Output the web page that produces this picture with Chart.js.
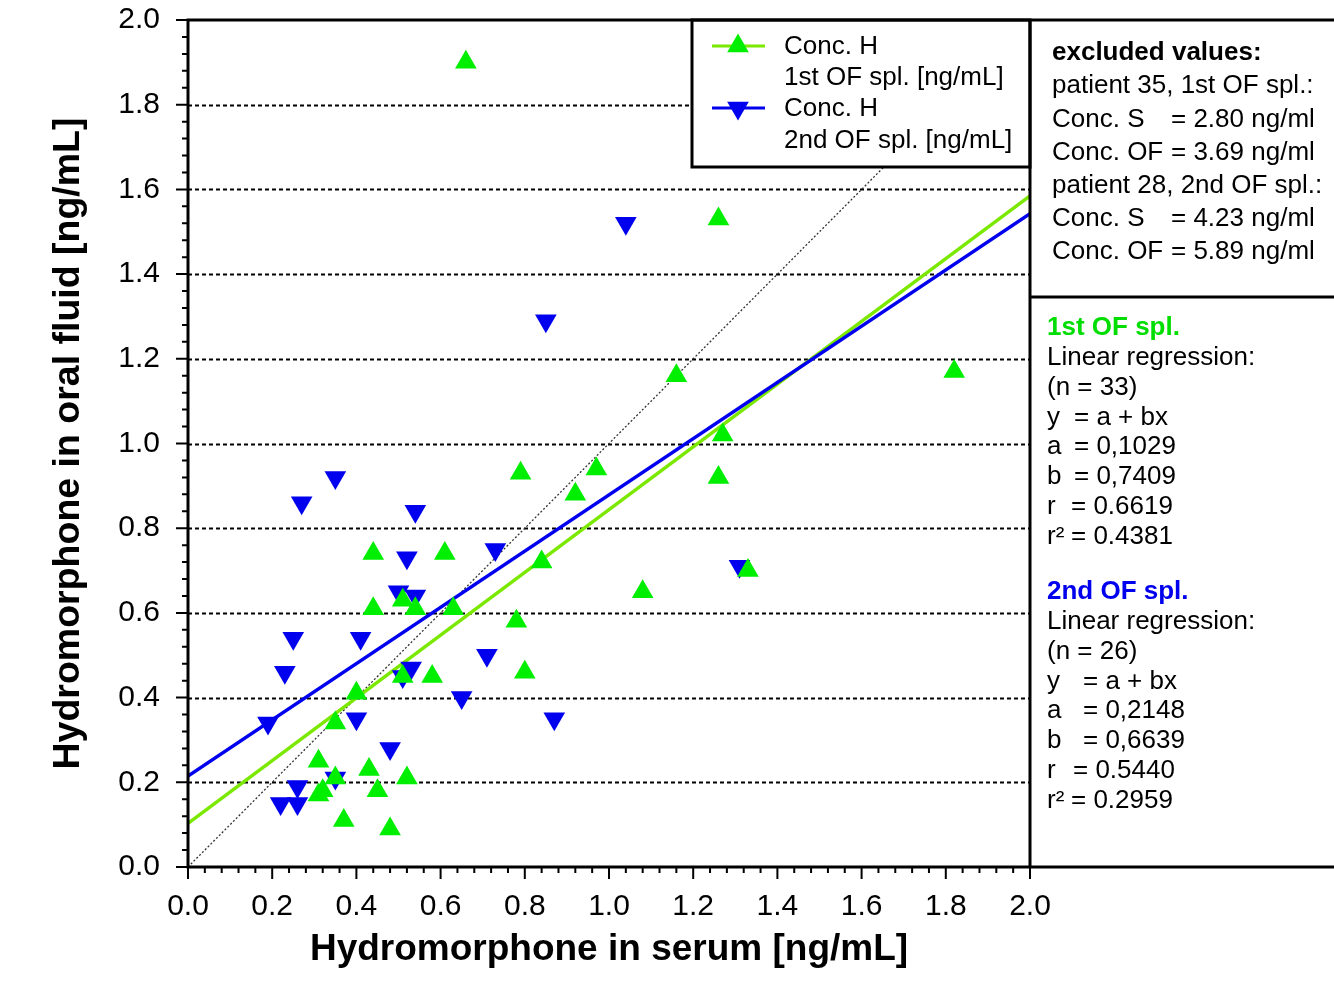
<!DOCTYPE html>
<html>
<head>
<meta charset="utf-8">
<script src="https://cdn.jsdelivr.net/npm/chart.js@4/dist/chart.umd.min.js"></script>
<style>
  html, body { margin: 0; padding: 0; background: #fff; }
  #wrap { width: 1334px; height: 987px; }
</style>
</head>
<body>
<div id="wrap"><canvas id="c" width="1334" height="987"></canvas></div>
<script>
// ---- data ----
const firstX = [0.66,1.26,1.16,1.82,1.27,0.79,0.97,0.92,1.26,0.84,1.08,1.33,0.44,0.61,0.44,0.51,0.54,0.63,0.78,0.51,0.58,0.80,0.40,0.35,0.31,0.43,0.52,0.35,0.31,0.32,0.45,0.37,0.48];
const firstY = [1.90,1.53,1.16,1.17,1.02,0.93,0.94,0.88,0.92,0.72,0.65,0.70,0.74,0.74,0.61,0.63,0.61,0.61,0.58,0.45,0.45,0.46,0.41,0.34,0.25,0.23,0.21,0.21,0.17,0.18,0.18,0.11,0.09];
const secondX = [1.04,0.85,0.35,0.27,0.54,0.73,0.52,0.50,0.54,0.25,0.41,0.23,0.71,0.53,0.65,0.87,0.40,0.19,0.48,0.35,0.26,0.22,0.26,1.31,0.51];
const secondY = [1.52,1.29,0.92,0.86,0.84,0.75,0.73,0.65,0.64,0.54,0.54,0.46,0.50,0.47,0.40,0.35,0.35,0.34,0.28,0.21,0.19,0.15,0.15,0.71,0.45];
// regression coefficients (from the figure text)
const regFirst = { a: 0.1029, b: 0.7409 };
const regSecond = { a: 0.2148, b: 0.6639 };
const lineX = [0, 2];
const gridValues = [0.2, 0.4, 0.6, 0.8, 1.0, 1.2, 1.4, 1.6, 1.8];
const legendLabels = [["Conc. H", "1st OF spl. [ng/mL]"], ["Conc. H", "2nd OF spl. [ng/mL]"]];
const excludedLines = [
  ["excluded values:", null, true],
  ["patient 35, 1st OF spl.:", null, false],
  ["Conc. S", "= 2.80 ng/ml", false],
  ["Conc. OF", "= 3.69 ng/ml", false],
  ["patient 28, 2nd OF spl.:", null, false],
  ["Conc. S", "= 4.23 ng/ml", false],
  ["Conc. OF", "= 5.89 ng/ml", false]
];
const statsFirst = [["1st OF spl.", null], ["Linear regression:", null], ["(n = 33)", null], ["y", "= a + bx"], ["a", "= 0,1029"], ["b", "= 0,7409"], ["r", "= 0.6619"], ["r²", "= 0.4381"]];
const statsSecond = [["2nd OF spl.", null], ["Linear regression:", null], ["(n = 26)", null], ["y", "= a + bx"], ["a", "= 0,2148"], ["b", "= 0,6639"], ["r", "= 0.5440"], ["r²", "= 0.2959"]];

// ---- styles ----
const GREEN_PT = '#00ee00';
const GREEN_LINE = '#7be800';
const BLUE = '#0000ee';
const FONT = "'Liberation Sans', Arial, Helvetica, sans-serif";

const pts = (xs, ys) => xs.map((x, i) => ({ x: x, y: ys[i] }));
const regLine = (r) => lineX.map(x => ({ x: x, y: r.a + r.b * x }));

const framePlugin = {
  id: 'frame',
  beforeDatasetsDraw(chart) {
    const ctx = chart.ctx, ca = chart.chartArea, ys = chart.scales.y;
    ctx.save();
    ctx.strokeStyle = '#000';
    ctx.lineWidth = 1.8;
    ctx.setLineDash([4, 3]);
    gridValues.forEach(v => {
      const py = Math.round(ys.getPixelForValue(v)) + 0.5;
      ctx.beginPath(); ctx.moveTo(ca.left, py); ctx.lineTo(ca.right, py); ctx.stroke();
    });
    ctx.restore();
  },
  afterDatasetsDraw(chart) {
    const ctx = chart.ctx, ca = chart.chartArea, xs = chart.scales.x, ys = chart.scales.y;
    const W = chart.width;
    ctx.save();
    // legend box
    const lx0 = 692, ly0 = 20, ly1 = 167;
    ctx.fillStyle = '#fff';
    ctx.fillRect(lx0, ly0, ca.right - lx0, ly1 - ly0);
    ctx.strokeStyle = '#000'; ctx.lineWidth = 3; ctx.setLineDash([]);
    ctx.strokeRect(lx0, ly0, ca.right - lx0, ly1 - ly0);
    // frame lines
    ctx.beginPath();
    ctx.moveTo(ca.left - 1.5, ca.top); ctx.lineTo(W, ca.top);
    ctx.moveTo(ca.left, ca.top - 1.5); ctx.lineTo(ca.left, ca.bottom + 1.5);
    ctx.moveTo(ca.left - 1.5, ca.bottom); ctx.lineTo(W, ca.bottom);
    ctx.moveTo(ca.right, ca.top); ctx.lineTo(ca.right, ca.bottom);
    ctx.moveTo(ca.right, 297); ctx.lineTo(W, 297);
    ctx.stroke();
    // ticks
    ctx.lineWidth = 2;
    ctx.beginPath();
    for (let i = 0; i <= 50; i++) {
      const v = i * 0.04;
      const major = i % 5 === 0;
      const len = major ? 12 : 6;
      const py = ys.getPixelForValue(v);
      ctx.moveTo(ca.left - len, py); ctx.lineTo(ca.left, py);
      const px = xs.getPixelForValue(v);
      ctx.moveTo(px, ca.bottom); ctx.lineTo(px, ca.bottom + len);
    }
    ctx.stroke();

    // legend content
    const legendRows = [[46, 77, GREEN_LINE, GREEN_PT, false], [108, 140, BLUE, BLUE, true]];
    legendRows.forEach((row, k) => {
      const [y1, y2, lc, pc, down] = row;
      ctx.strokeStyle = lc; ctx.lineWidth = 3;
      ctx.beginPath(); ctx.moveTo(712, y1); ctx.lineTo(765, y1); ctx.stroke();
      ctx.fillStyle = pc;
      const r = 12.5, cx = 738;
      ctx.beginPath();
      if (!down) {
        ctx.moveTo(cx, y1 - r); ctx.lineTo(cx + r * 0.866, y1 + r / 2); ctx.lineTo(cx - r * 0.866, y1 + r / 2);
      } else {
        ctx.moveTo(cx, y1 + r); ctx.lineTo(cx + r * 0.866, y1 - r / 2); ctx.lineTo(cx - r * 0.866, y1 - r / 2);
      }
      ctx.closePath(); ctx.fill();
      ctx.fillStyle = '#000';
      ctx.font = '26px ' + FONT;
      ctx.textBaseline = 'middle';
      ctx.fillText(legendLabels[k][0], 784, y1 + 1);
      ctx.fillText(legendLabels[k][1], 784, y2 + 1);
    });

    // excluded values panel
    ctx.fillStyle = '#000';
    ctx.textBaseline = 'middle';
    excludedLines.forEach((ln, i) => {
      const y = 53 + i * 33.2;
      ctx.font = (ln[2] ? 'bold ' : '') + '26px ' + FONT;
      ctx.fillText(ln[0], 1052, y);
      if (ln[1]) ctx.fillText(ln[1], 1171, y);
    });

    // stats panel
    const drawStats = (arr, y0, color, eqX) => {
      arr.forEach((ln, i) => {
        const y = y0 + i * 29.8;
        if (i === 0) { ctx.font = 'bold 26px ' + FONT; ctx.fillStyle = color; }
        else { ctx.font = '26px ' + FONT; ctx.fillStyle = '#000'; }
        ctx.fillText(ln[0], 1047, y);
        if (ln[1]) ctx.fillText(ln[1], eqX[i], y);
      });
    };
    drawStats(statsFirst, 328, '#00dd00', [0, 0, 0, 1074, 1074, 1074, 1071, 1071]);
    drawStats(statsSecond, 592, '#0000ee', [0, 0, 0, 1083, 1083, 1083, 1073, 1071]);
    ctx.restore();
  }
};

new Chart(document.getElementById('c'), {
  type: 'scatter',
  data: {
    datasets: [
      { label: '1st OF spl.', data: pts(firstX, firstY), pointStyle: 'triangle', pointRadius: 12.5, pointHoverRadius: 12.5,
        backgroundColor: GREEN_PT, borderColor: GREEN_PT, borderWidth: 0, order: 0 },
      { label: '2nd OF spl.', data: pts(secondX, secondY), pointStyle: 'triangle', rotation: 180, pointRadius: 12.5, pointHoverRadius: 12.5,
        backgroundColor: BLUE, borderColor: BLUE, borderWidth: 0, order: 1 },
      { type: 'line', label: 'reg 1st', data: regLine(regFirst), borderColor: GREEN_LINE, borderWidth: 3.4, pointRadius: 0, fill: false, order: 3 },
      { type: 'line', label: 'reg 2nd', data: regLine(regSecond), borderColor: BLUE, borderWidth: 3.4, pointRadius: 0, fill: false, order: 2 },
      { type: 'line', label: 'identity', data: lineX.map(x => ({ x: x, y: x })), borderColor: '#333', borderWidth: 1.3, borderDash: [2, 2], pointRadius: 0, fill: false, order: 4 }
    ]
  },
  options: {
    responsive: false,
    animation: false,
    devicePixelRatio: 1,
    layout: { padding: { left: 0, top: 20, right: 304, bottom: 0 } },
    plugins: { legend: { display: false }, tooltip: { enabled: false } },
    scales: {
      x: {
        type: 'linear', min: 0, max: 2, position: 'bottom',
        grid: { display: false, drawTicks: false, tickLength: 0 },
        border: { display: false },
        ticks: { stepSize: 0.2, padding: 22, color: '#000', font: { family: FONT, size: 30 }, callback: v => Number(v).toFixed(1), maxRotation: 0 },
        title: { display: true, text: 'Hydromorphone in serum [ng/mL]', color: '#000', font: { family: FONT, size: 37, weight: 'bold' }, padding: { top: 0, bottom: 15 } },
        afterFit: s => { s.height = 120; s.paddingLeft = 0; s.paddingRight = 0; }
      },
      y: {
        type: 'linear', min: 0, max: 2, position: 'left',
        grid: { display: false, drawTicks: false, tickLength: 0 },
        border: { display: false },
        ticks: { stepSize: 0.2, padding: 28, color: '#000', font: { family: FONT, size: 30 }, callback: v => Number(v).toFixed(1) },
        title: { display: true, text: 'Hydromorphone in oral fluid [ng/mL]', color: '#000', font: { family: FONT, size: 37.5, weight: 'bold' }, padding: { top: 46, bottom: 0 } },
        afterFit: s => { s.width = 188; s.paddingTop = 0; s.paddingBottom = 0; }
      }
    }
  },
  plugins: [framePlugin]
});
</script>
</body>
</html>
